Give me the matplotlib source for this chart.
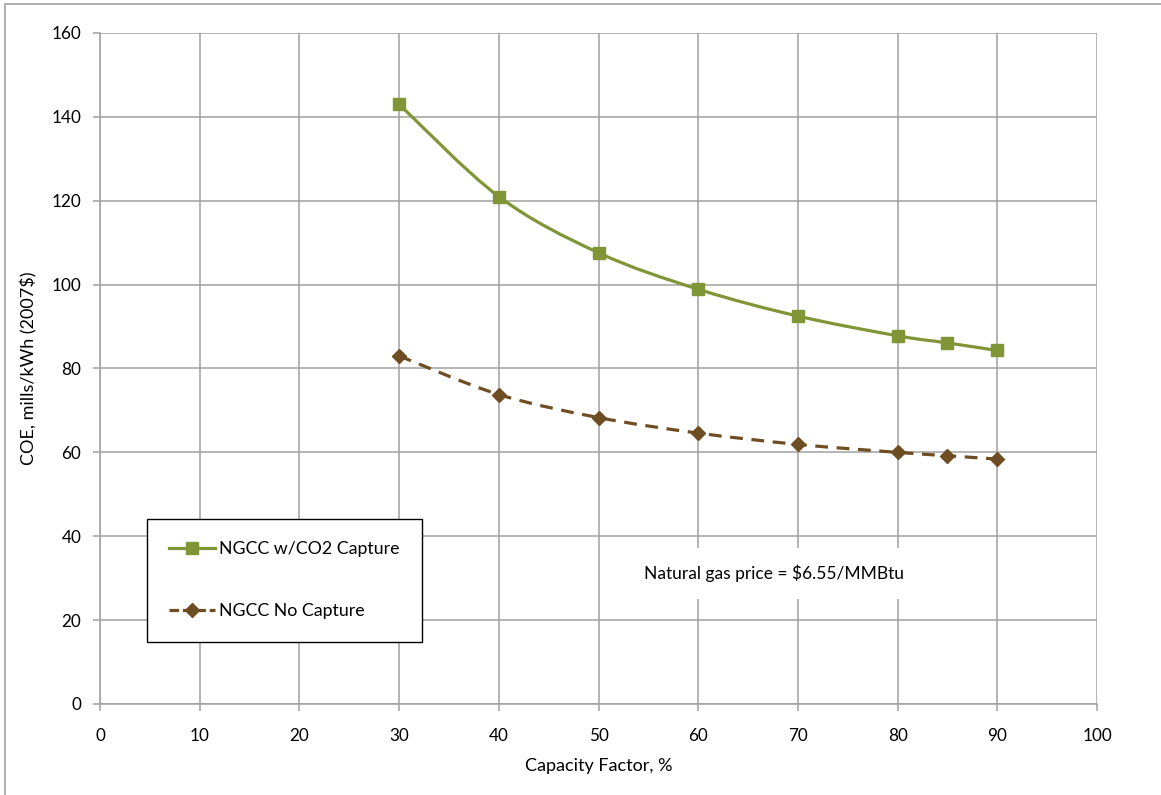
import matplotlib
matplotlib.use("Agg")
import matplotlib.pyplot as plt
from matplotlib.path import Path
from matplotlib.patches import PathPatch, Rectangle
from matplotlib.lines import Line2D

# dados
capacidade = [30, 40, 50, 60, 70, 80, 85, 90]
coe_captura = [143.0, 121.0, 107.6, 98.9, 92.5, 87.8, 86.1, 84.3]
coe_sem_captura = [83.0, 73.8, 68.3, 64.6, 61.9, 60.0, 59.2, 58.4]

verde = "#7F9536"
marrom = "#6E4D22"
cinza = "#A0A0A0"

plt.rcParams['font.family'] = ['Lato', 'DejaVu Sans']


# curva suavizada tipo Excel (bezier com pontos de controle vizinhos)
def caminhoSuave(xs, ys):
    pts = list(zip(xs, ys))
    n = len(pts)
    verts = [pts[0]]
    codes = [Path.MOVETO]
    for i in range(n - 1):
        p0 = pts[i - 1] if i > 0 else pts[i]
        p1 = pts[i]
        p2 = pts[i + 1]
        p3 = pts[i + 2] if i + 2 < n else pts[i + 1]
        c1 = (p1[0] + (p2[0] - p0[0]) / 6, p1[1] + (p2[1] - p0[1]) / 6)
        c2 = (p2[0] - (p3[0] - p1[0]) / 6, p2[1] - (p3[1] - p1[1]) / 6)
        verts += [c1, c2, p2]
        codes += [Path.CURVE4] * 3
    return Path(verts, codes)


fig = plt.figure(figsize=(11.61, 7.95), dpi=100)
ax = fig.add_axes([100 / 1161, 91 / 795, 997 / 1161, 671 / 795])

ax.set_xlim(0, 100)
ax.set_ylim(0, 160)
ax.set_xticks(range(0, 101, 10))
ax.set_yticks(range(0, 161, 20))
ax.grid(True, color=cinza, linewidth=1.1)
ax.set_axisbelow(True)
for lado in ['top', 'right']:
    ax.spines[lado].set_visible(False)
for lado in ['left', 'bottom']:
    ax.spines[lado].set_color(cinza)
    ax.spines[lado].set_linewidth(1.1)
ax.tick_params(colors=cinza, labelcolor='black', labelsize=12.3, length=5, width=1.1, direction='out')
ax.tick_params(axis='y', pad=8.5)
ax.tick_params(axis='x', pad=12)

ax.add_patch(PathPatch(caminhoSuave(capacidade, coe_captura), fill=False, edgecolor=verde, linewidth=2.3, zorder=3))
ax.add_patch(PathPatch(caminhoSuave(capacidade, coe_sem_captura), fill=False, edgecolor=marrom, linewidth=2.3,
                       linestyle=(0, (4, 2.7)), zorder=3))
ax.plot(capacidade, coe_captura, linestyle='none', marker='s', markersize=8.5, color=verde, zorder=4)
ax.plot(capacidade, coe_sem_captura, linestyle='none', marker='D', markersize=7, color=marrom, zorder=4)

ax.set_xlabel("Capacity Factor, %", fontsize=13, labelpad=10)
ax.set_ylabel("COE, mills/kWh (2007$)", fontsize=13, labelpad=10)

ax.text(67.6, 31.2, "Natural gas price = $6.55/MMBtu", fontsize=12.5, ha='center', va='center',
        bbox=dict(facecolor='white', edgecolor='none', pad=12), zorder=2.5)

itens = [Line2D([], [], color=verde, linewidth=2.3, marker='s', markersize=8.5),
         Line2D([], [], color=marrom, linewidth=2.3, linestyle=(0, (3, 1.2)), marker='D', markersize=7)]
leg = ax.legend(itens, ["NGCC w/CO2 Capture", "NGCC No Capture"], loc='upper left',
                bbox_to_anchor=(47 / 997, 185 / 671), fontsize=12.8, handlelength=2.6, handletextpad=0.2,
                labelspacing=2.6, borderpad=1.25, fancybox=False, framealpha=1, borderaxespad=0)
leg.get_frame().set_edgecolor('black')
leg.get_frame().set_linewidth(1.0)

fig.patches.append(Rectangle((5 / 1161, -0.05), 1.1, 1 - 4 / 795 + 0.05, transform=fig.transFigure,
                             fill=False, edgecolor=cinza, linewidth=1.2))

fig.savefig("out.png", dpi=100)
